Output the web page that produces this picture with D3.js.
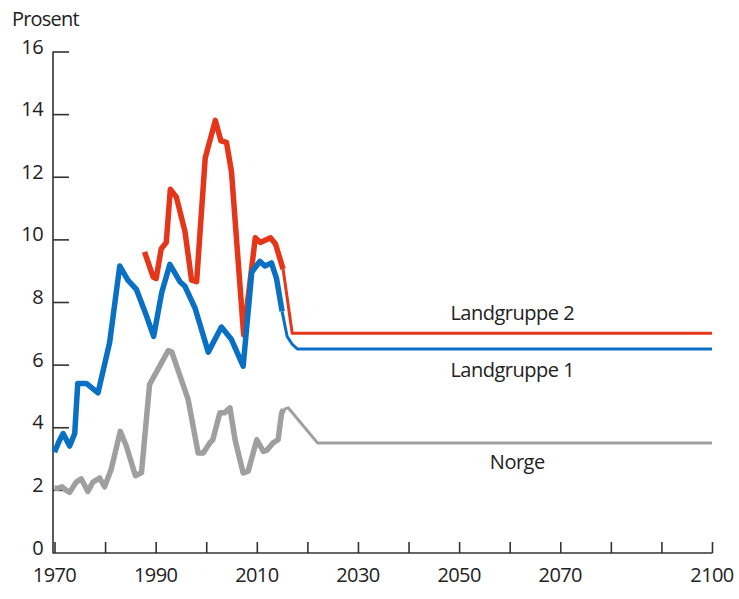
<!DOCTYPE html>
<html>
<head>
<meta charset="utf-8">
<script src="https://cdn.jsdelivr.net/npm/d3@7"></script>
<style>
  html, body { margin: 0; padding: 0; background: #fff; }
  svg { display: block; }
  text { font-family: "Open Sans", sans-serif; fill: #222; }
</style>
</head>
<body>
<svg id="chart" width="739" height="599"></svg>
<script>
// ---- Data ----
const yTicks = [0, 2, 4, 6, 8, 10, 12, 14, 16];
const xTicks = [1970, 1980, 1990, 2000, 2010, 2020, 2030, 2040, 2050, 2060, 2070, 2080, 2090, 2100];
const xTickLabels = [1970, 1990, 2010, 2030, 2050, 2070, 2100];
const yLabel = "Prosent";

// Landgruppe 1 (historical, thick)
const lg1Hist = [
  [1970.0, 3.2], [1970.9, 3.55], [1971.7, 3.8], [1973.0, 3.4], [1974.0, 3.8],
  [1974.6, 5.4], [1976.3, 5.4], [1978.6, 5.1], [1980.9, 6.7], [1982.9, 9.15],
  [1984.5, 8.7], [1986.2, 8.4], [1988.2, 7.55], [1989.6, 6.9], [1991.2, 8.3],
  [1992.8, 9.2], [1994.8, 8.65], [1995.8, 8.5], [1997.8, 7.8], [2000.4, 6.4],
  [2003.0, 7.2], [2005.0, 6.8], [2007.3, 5.95], [2009.0, 8.95], [2010.6, 9.3],
  [2011.6, 9.15], [2012.9, 9.25], [2013.9, 8.75], [2015.0, 7.7]
];
// Landgruppe 1 (projection, thin)
const lg1Proj = [[2015.0, 7.7], [2016.0, 6.9], [2017.0, 6.65], [2018.0, 6.5], [2100, 6.5]];

// Landgruppe 2 (historical, thick)
const lg2Hist = [
  [1987.8, 9.6], [1989.5, 8.8], [1990.1, 8.75], [1991.1, 9.7], [1992.1, 9.9],
  [1992.9, 11.6], [1994.1, 11.35], [1995.8, 10.25], [1997.1, 8.7], [1998.1, 8.65],
  [1999.8, 12.6], [2001.8, 13.8], [2002.9, 13.15], [2004.0, 13.1], [2005.0, 12.15],
  [2007.4, 6.95], [2009.7, 10.05], [2010.7, 9.9], [2012.7, 10.05], [2013.7, 9.85],
  [2015.2, 9.05]
];
// Landgruppe 2 (projection, thin)
const lg2Proj = [[2015.2, 9.05], [2017.0, 7.0], [2100, 7.0]];

// Norge (historical, thick)
const norHist = [
  [1970.0, 2.05], [1970.7, 2.05], [1971.5, 2.1], [1972.2, 2.0], [1973.0, 1.92],
  [1974.3, 2.25], [1975.3, 2.35], [1976.6, 1.95], [1977.6, 2.25], [1978.9, 2.38],
  [1979.9, 2.1], [1981.2, 2.65], [1983.0, 3.87], [1984.2, 3.4], [1986.0, 2.45],
  [1987.2, 2.55], [1988.8, 5.37], [1990.8, 5.95], [1992.5, 6.45], [1993.2, 6.4],
  [1996.4, 4.9], [1998.4, 3.18], [1999.4, 3.18], [2000.7, 3.5], [2001.3, 3.6],
  [2002.7, 4.46], [2003.6, 4.46], [2004.7, 4.62], [2005.7, 3.6], [2007.3, 2.54],
  [2008.3, 2.6], [2010.0, 3.6], [2011.3, 3.23], [2012.0, 3.27], [2013.2, 3.5],
  [2014.2, 3.6], [2014.9, 4.45], [2015.3, 4.57]
];
// Norge (projection, thin)
const norProj = [[2015.3, 4.57], [2016.2, 4.62], [2022.0, 3.5], [2100, 3.5]];

const seriesLabels = [
  { text: "Landgruppe 2", year: 2060.5, value: 7.0, dy: -13 },
  { text: "Landgruppe 1", year: 2060.5, value: 6.5, dy: 28 },
  { text: "Norge", year: 2061.5, value: 3.5, dy: 26 }
];

const colors = { lg1: "#0a70c4", lg2: "#e5361a", nor: "#9f9f9f" };

// ---- Drawing ----
const svg = d3.select("#chart");
const x = d3.scaleLinear().domain([1970, 2100]).range([54.5, 712]);
const y = d3.scaleLinear().domain([0, 16]).range([552.5, 51.5]);

const axisColor = "#333";
const fontSize = "20px";

// Y axis
const yAxis = svg.append("g").attr("transform", `translate(${53},0)`)
  .call(d3.axisRight(y).tickValues(yTicks).tickSize(16).tickFormat(""));
yAxis.select(".domain").attr("d", `M0,${y(16)}V${y(0) + 1}`).attr("stroke", axisColor).attr("stroke-width", 1.6);
yAxis.selectAll(".tick line").attr("stroke", axisColor).attr("stroke-width", 1.6);
yAxis.selectAll(".tick").filter(d => d === 0).remove();

svg.append("g").selectAll("text").data(yTicks).join("text")
  .attr("x", 43).attr("y", d => y(d) + 2)
  .attr("text-anchor", "end")
  .style("font-size", fontSize).style("letter-spacing", "-0.6px")
  .text(d => d);

// X axis
const xAxis = svg.append("g").attr("transform", `translate(0,${553})`)
  .call(d3.axisTop(x).tickValues(xTicks).tickSize(11).tickFormat(""));
xAxis.select(".domain").attr("d", `M53,0H${x(2100) + 0.5}`).attr("stroke", axisColor).attr("stroke-width", 1.6);
xAxis.selectAll(".tick line").attr("stroke", axisColor).attr("stroke-width", 1.6);

svg.append("g").selectAll("text").data(xTickLabels).join("text")
  .attr("x", d => x(d)).attr("y", 582)
  .attr("text-anchor", "middle")
  .style("font-size", fontSize).style("letter-spacing", "-0.6px")
  .text(d => d);

// Y label
svg.append("text").attr("x", 12).attr("y", 26)
  .style("font-size", fontSize).style("letter-spacing", "-0.8px")
  .text(yLabel);

// Lines
const line = d3.line().x(d => x(d[0])).y(d => y(d[1])).curve(d3.curveLinear);

function drawLine(data, color, width) {
  svg.append("path").datum(data)
    .attr("d", line)
    .attr("fill", "none")
    .attr("stroke", color)
    .attr("stroke-width", width)
    .attr("stroke-linejoin", "round")
    .attr("stroke-linecap", "butt");
}

drawLine(norProj, colors.nor, 3);
drawLine(norHist, colors.nor, 5.5);
drawLine(lg2Proj, colors.lg2, 3);
drawLine(lg2Hist, colors.lg2, 5.5);
drawLine(lg1Proj, colors.lg1, 3);
drawLine(lg1Hist, colors.lg1, 5.5);

// Series labels
svg.append("g").selectAll("text").data(seriesLabels).join("text")
  .attr("x", d => x(d.year)).attr("y", d => y(d.value) + d.dy)
  .attr("text-anchor", "middle")
  .style("font-size", fontSize).style("letter-spacing", "-0.5px")
  .text(d => d.text);
</script>
</body>
</html>
